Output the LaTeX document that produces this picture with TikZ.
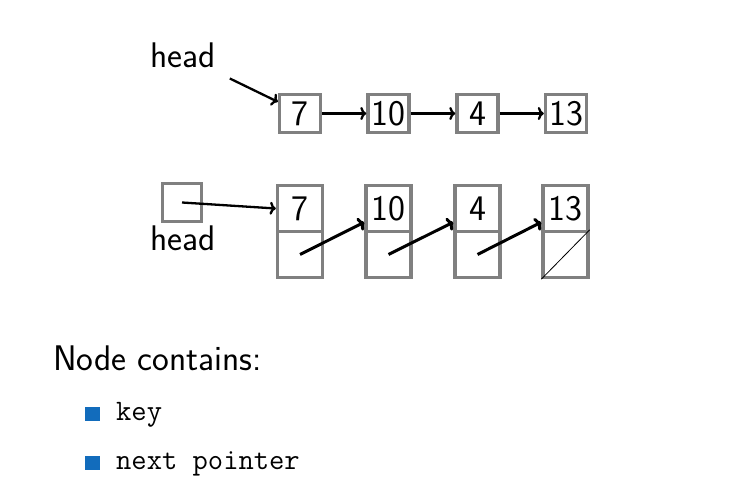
\documentclass[tikz,border=0pt]{standalone}
\usepackage{fontspec}
\usetikzlibrary{calc,arrows.meta}
\definecolor{boxgray}{RGB}{128,128,128}
\definecolor{itemblue}{RGB}{18,108,188}
\begin{document}
\begin{tikzpicture}[x=1pt,y=-1pt,
  numfont/.style={font=\sffamily\fontsize{36}{40}\selectfont},
  keybox/.style={draw=boxgray, line width=3.4pt, minimum width=41pt, minimum height=38pt,
    inner xsep=3pt, inner ysep=0pt, numfont},
  half/.style={draw=boxgray, line width=3.4pt, minimum width=45pt, minimum height=46pt,
    inner sep=0pt, numfont},
  headbox/.style={draw=boxgray, line width=3.4pt, minimum width=39pt, minimum height=38pt, inner sep=0pt},
  label/.style={anchor=base west, inner sep=0pt, font=\sffamily\fontsize{35.6}{40}\selectfont},
  code/.style={anchor=base west, inner sep=0pt, font=\ttfamily\fontsize{29.7}{33}\selectfont},
  bullet/.style={fill=itemblue, minimum width=15pt, minimum height=14pt, inner sep=0pt},
  link/.style={-{To[length=6pt,width=13pt]}, line width=2.3pt},
  biglink/.style={-{To[length=6pt,width=14pt]}, line width=3pt},
]
\useasboundingbox (0,0) rectangle (740,486);

% singly linked list drawn as a row of keys
\node[label] (hl1) at (150,68) {head};
\node[keybox] (t1) at (300,113.5) {7};
\node[keybox] (t2) at (388.5,113.5) {10};
\node[keybox] (t3) at (477.5,113.5) {4};
\node[keybox] (t4) at (566,113.5) {13};
\coordinate (hs1) at ($(hl1.south east)+(14,10)$);
\draw[link] (hs1) -- ($(t1.north west)+(0,9)$);
\draw[link] (t1) -- (t2);
\draw[link] (t2) -- (t3);
\draw[link] (t3) -- (t4);

% the same list with each node split into key and next fields
\node[headbox] (hb) at (182,202.5) {};
\node[label] (hl2) at (150,251) {head};
\foreach \i/\x/\k in {1/300/7, 2/388.5/10, 3/477.5/4, 4/565.5/13}{
  \node[half] (k\i) at (\x,208.5) {\k};
  \node[half] (p\i) at (\x,254.5) {};
}
\draw[link] (hb.center) -- (k1.west);
\draw[biglink] (p1.center) -- ($(k2.south west)+(0,-11)$);
\draw[biglink] (p2.center) -- ($(k3.south west)+(0,-11)$);
\draw[biglink] (p3.center) -- ($(k4.south west)+(0,-11)$);
\draw[line width=0.8pt] (p4.south west) -- (p4.north east);

% description of a list node
\node[label] (nc) at (53,371) {Node contains:};
\node[bullet] (b1) at (92.5,414) {};
\node[code] (c1) at (116,421) {key};
\node[bullet] (b2) at (92.5,463) {};
\node[code] (c2) at (116,470) {next pointer};
\end{tikzpicture}
\end{document}
